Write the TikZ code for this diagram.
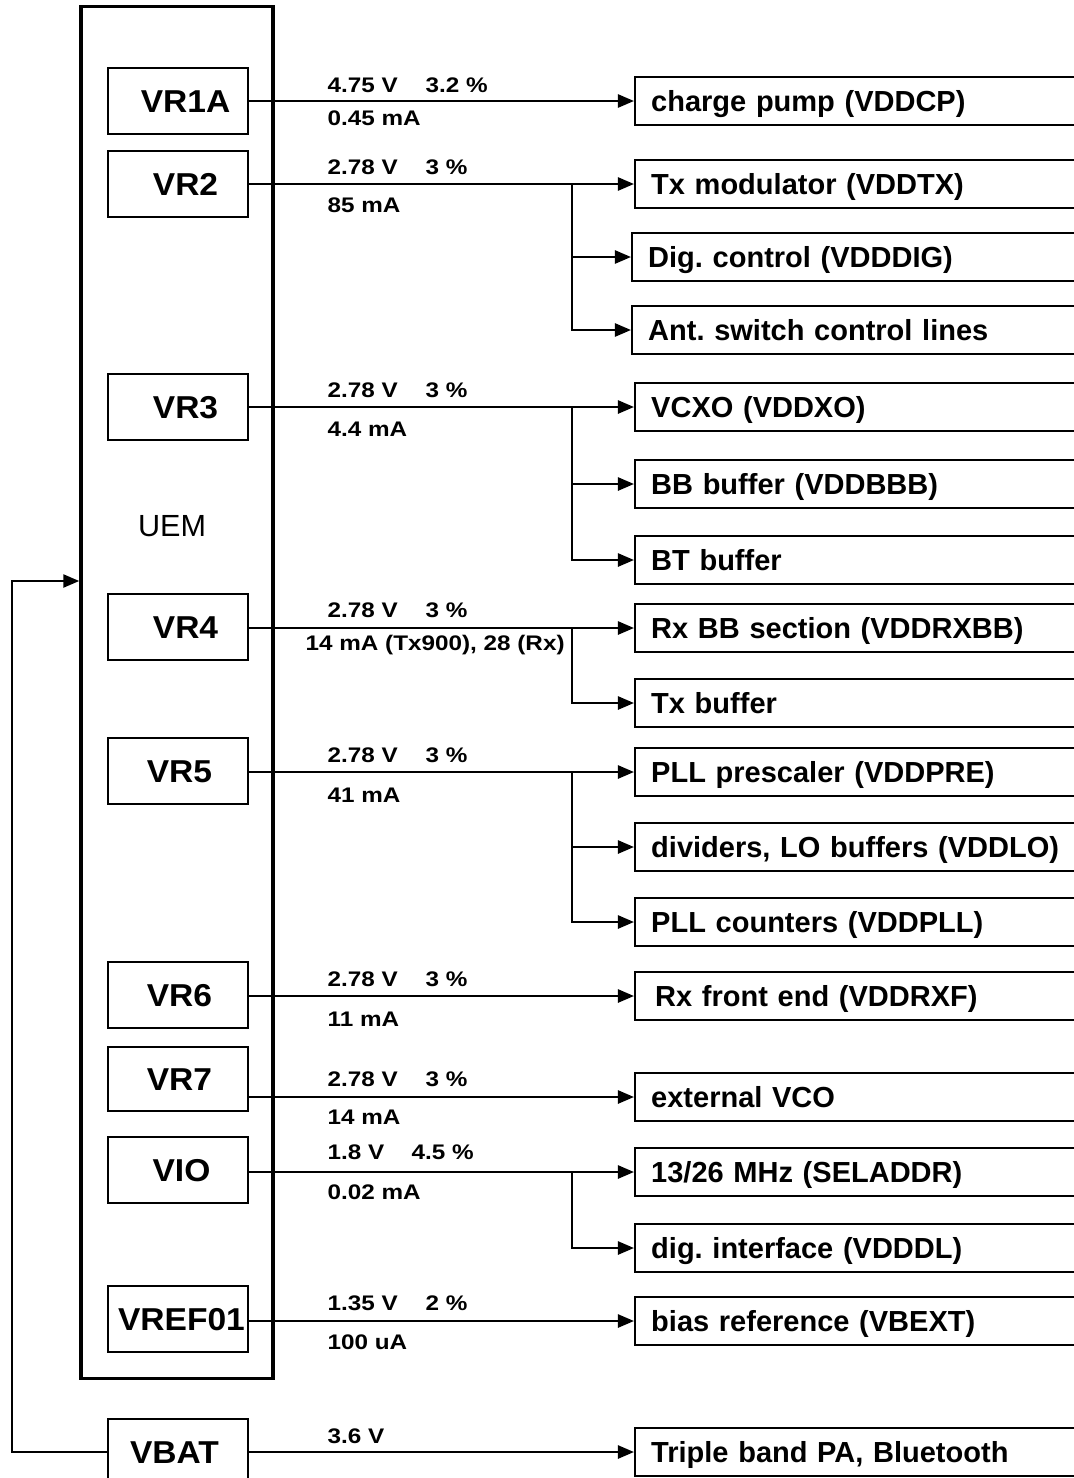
\documentclass[tikz,border=0pt]{standalone}
\usepackage{fontspec}
\setmainfont{Liberation Sans}
\newfontfamily\lblfont{Liberation Sans}[FakeStretch=1.15]
\newfontfamily\vrfont{Liberation Sans}[FakeStretch=1.06]
\usetikzlibrary{arrows.meta}
\frenchspacing
\tikzset{
  ln/.style={line width=0.68pt},
  arr/.style={ln, -{Triangle[length=0.16cm,width=0.13cm]}},
  uembox/.style={draw, line width=0.95pt, minimum width=1.92cm, minimum height=13.71cm, inner sep=0pt},
  vrbox/.style={draw, ln, minimum width=1.40cm, minimum height=0.66cm, inner sep=0pt,
    font=\vrfont\bfseries\fontsize{9}{10}\selectfont, text height=0.22cm, text depth=0pt},
  rbox/.style={draw, ln, anchor=west, text width=4.3cm, align=left, inner xsep=0.16cm,
    inner ysep=0pt, minimum height=0.48cm, text height=0.21cm, text depth=0pt,
    font=\bfseries\fontsize{8.25}{10}\selectfont},
  vlab/.style={anchor=base west, inner sep=0pt, font=\lblfont\bfseries\fontsize{6}{7}\selectfont},
  uemlab/.style={inner sep=0pt, font=\fontsize{8.7}{10}\selectfont}
}
\begin{document}
\begin{tikzpicture}[x=0.01cm,y=-0.01cm]
\useasboundingbox (0,0) rectangle (1074,1478);
\begin{scope}
\clip (0,0) rectangle (1074,1478);
% UEM block
\node[uembox] (uem) at (177,692.5) {};
\node[uemlab] (uemlbl) at (172,526) {UEM};
% regulators
\node[vrbox] (vr1a) at (178,101) {\hspace*{0.15cm}VR1A};
\node[vrbox] (vr2) at (178,184) {\hspace*{0.15cm}VR2};
\node[vrbox] (vr3) at (178,407) {\hspace*{0.15cm}VR3};
\node[vrbox] (vr4) at (178,627) {\hspace*{0.15cm}VR4};
\node[vrbox] (vr5) at (178,771) {\hspace*{0.03cm}VR5};
\node[vrbox] (vr6) at (178,995) {\hspace*{0.03cm}VR6};
\node[vrbox, minimum height=0.64cm] (vr7) at (178,1079) {\hspace*{0.03cm}VR7};
\node[vrbox] (vio) at (178,1170) {\hspace*{0.07cm}VIO};
\node[vrbox] (vref) at (178,1319) {\hspace*{0.07cm}VREF01};
\node[vrbox] (vbat) at (178,1452) {\hspace*{-0.07cm}VBAT};
% loads
\node[rbox] (cp) at (634,101) {charge pump (VDDCP)};
\node[rbox] (tx) at (634,184) {Tx modulator (VDDTX)};
\node[rbox] (dig) at (631,257) {Dig. control (VDDDIG)};
\node[rbox] (ant) at (631,330) {Ant. switch control lines};
\node[rbox] (vcxo) at (634,407) {VCXO (VDDXO)};
\node[rbox] (bbb) at (634,484) {BB buffer (VDDBBB)};
\node[rbox] (bt) at (634,560) {BT buffer};
\node[rbox] (rxbb) at (634,628) {Rx BB section (VDDRXBB)};
\node[rbox] (txb) at (634,703) {Tx buffer};
\node[rbox] (pre) at (634,772) {PLL prescaler (VDDPRE)};
\node[rbox] (lo) at (634,847) {dividers, LO buffers (VDDLO)};
\node[rbox] (pll) at (634,922) {PLL counters (VDDPLL)};
\node[rbox] (rxf) at (634,996) {\hspace*{0.04cm}Rx front end (VDDRXF)};
\node[rbox] (vco) at (634,1097) {external VCO};
\node[rbox] (sel) at (634,1172) {13/26 MHz (SELADDR)};
\node[rbox] (ddl) at (634,1248) {dig. interface (VDDDL)};
\node[rbox] (vbext) at (634,1321) {bias reference (VBEXT)};
\node[rbox] (pa) at (634,1452) {Triple band PA, Bluetooth};
% branch x
\coordinate (bx) at (572,0);
% connectors
\draw[arr] (vr1a.east |- cp.west) -- (cp.west);
\draw[arr] (vr2.east |- tx.west) -- (tx.west);
\draw[arr] (bx |- tx.west) |- (dig.west);
\draw[arr] (bx |- tx.west) |- (ant.west);
\draw[arr] (vr3.east |- vcxo.west) -- (vcxo.west);
\draw[arr] (bx |- vcxo.west) |- (bbb.west);
\draw[arr] (bx |- vcxo.west) |- (bt.west);
\draw[arr] (vr4.east |- rxbb.west) -- (rxbb.west);
\draw[arr] (bx |- rxbb.west) |- (txb.west);
\draw[arr] (vr5.east |- pre.west) -- (pre.west);
\draw[arr] (bx |- pre.west) |- (lo.west);
\draw[arr] (bx |- pre.west) |- (pll.west);
\draw[arr] (vr6.east |- rxf.west) -- (rxf.west);
\draw[arr] (vr7.east |- vco.west) -- (vco.west);
\draw[arr] (vio.east |- sel.west) -- (sel.west);
\draw[arr] (bx |- sel.west) |- (ddl.west);
\draw[arr] (vref.east |- vbext.west) -- (vbext.west);
\draw[arr] (vbat.east |- pa.west) -- (pa.west);
% feedback VBAT -> UEM
\coordinate (fb) at (12,581);
\draw[arr] (vbat.west) -| (fb) -- (uem.west |- fb);
% labels
\node[vlab] (l1a) at (327,92) {4.75 V};  \node[vlab] (l1b) at (425,92) {3.2 \%};  \node[vlab] (l1c) at (327,125) {0.45 mA};
\node[vlab] (l2a) at (327,174) {2.78 V}; \node[vlab] (l2b) at (425,174) {3 \%};   \node[vlab] (l2c) at (327,212) {85 mA};
\node[vlab] (l3a) at (327,397) {2.78 V}; \node[vlab] (l3b) at (425,397) {3 \%};   \node[vlab] (l3c) at (327,436) {4.4 mA};
\node[vlab] (l4a) at (327,617) {2.78 V}; \node[vlab] (l4b) at (425,617) {3 \%};   \node[vlab] (l4c) at (305,650) {14 mA (Tx900), 28 (Rx)};
\node[vlab] (l5a) at (327,762) {2.78 V}; \node[vlab] (l5b) at (425,762) {3 \%};   \node[vlab] (l5c) at (327,802) {41 mA};
\node[vlab] (l6a) at (327,986) {2.78 V}; \node[vlab] (l6b) at (425,986) {3 \%};   \node[vlab] (l6c) at (327,1026) {11 mA};
\node[vlab] (l7a) at (327,1086) {2.78 V}; \node[vlab] (l7b) at (425,1086) {3 \%}; \node[vlab] (l7c) at (327,1124) {14 mA};
\node[vlab] (l8a) at (327,1159) {1.8 V}; \node[vlab] (l8b) at (411,1159) {4.5 \%}; \node[vlab] (l8c) at (327,1199) {0.02 mA};
\node[vlab] (l9a) at (327,1310) {1.35 V}; \node[vlab] (l9b) at (425,1310) {2 \%}; \node[vlab] (l9c) at (327,1349) {100 uA};
\node[vlab] (l10a) at (327,1443) {3.6 V};
\end{scope}
\end{tikzpicture}
\end{document}
